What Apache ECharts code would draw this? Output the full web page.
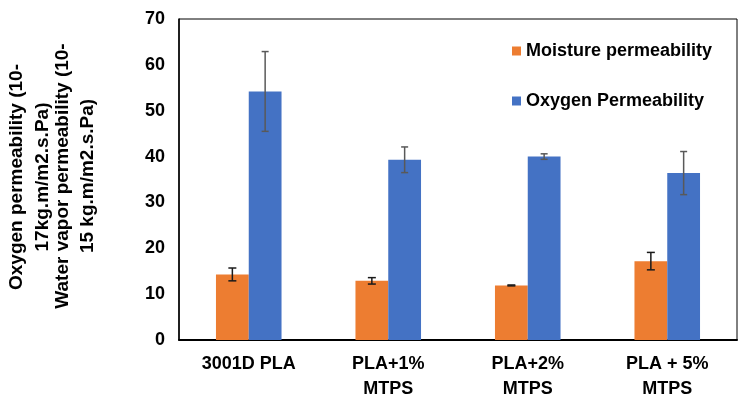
<!DOCTYPE html>
<html>
<head>
<meta charset="utf-8">
<script src="https://cdn.jsdelivr.net/npm/echarts@6/dist/echarts.min.js"></script>
<style>
html,body{margin:0;padding:0;background:#fff;}
#main{width:748px;height:408px;}
</style>
</head>
<body>
<div id="main"></div>
<script>
var categories = ['3001D PLA', 'PLA+1%\nMTPS', 'PLA+2%\nMTPS', 'PLA + 5%\nMTPS'];
var moistureValues = [14.3, 12.9, 11.9, 17.2];
var moistureErr = [1.4, 0.7, 0.1, 1.9];
var oxygenValues = [54.2, 39.3, 40.0, 36.4];
var oxygenErr = [8.7, 2.8, 0.6, 4.7];
var yTicks = [0, 10, 20, 30, 40, 50, 60, 70];

var FONT = 'Liberation Sans, Arial, sans-serif';
var GAP = 0.53;

function errData(vals, errs)
{
	var arr = [];
	for (var i = 0; i < vals.length; i++) {
		arr.push([i, vals[i] - errs[i], vals[i] + errs[i]]);
	}
	return arr;
}

function errRender(side, color, capW)
{
	return function (params, api) {
		var idx = api.value(0);
		var lo = api.coord([idx, api.value(1)]);
		var hi = api.coord([idx, api.value(2)]);
		var bandW = api.size([1, 0])[0];
		var barW = bandW * (1 - GAP) / 2;
		var x = lo[0] + side * barW / 2;
		var st = {stroke: color, lineWidth: 1.5};
		return {
			type: 'group',
			children: [
				{type: 'line', shape: {x1: x, y1: lo[1], x2: x, y2: hi[1]}, style: st},
				{type: 'line', shape: {x1: x - capW / 2, y1: lo[1], x2: x + capW / 2, y2: lo[1]}, style: st},
				{type: 'line', shape: {x1: x - capW / 2, y1: hi[1], x2: x + capW / 2, y2: hi[1]}, style: st}
			]
		};
	};
}

var option = {
	animation: false,
	backgroundColor: '#fff',
	textStyle: {fontFamily: FONT},
	grid: {
		left: 179, right: 11, top: 19, bottom: 68,
		show: true, borderColor: '#000', borderWidth: 1
	},
	legend: {
		orient: 'vertical',
		left: 507,
		top: 37,
		itemGap: 32,
		itemWidth: 9,
		itemHeight: 9,
		icon: 'rect',
		data: ['Moisture permeability', 'Oxygen Permeability'],
		textStyle: {fontFamily: FONT, fontSize: 18, fontWeight: 'bold', color: '#000'}
	},
	xAxis: {
		type: 'category',
		data: categories,
		axisLine: {lineStyle: {color: '#000', width: 2}},
		axisTick: {show: false},
		axisLabel: {
			color: '#000', fontFamily: FONT, fontSize: 18, fontWeight: 'bold',
			lineHeight: 25, margin: 12, interval: 0
		}
	},
	yAxis: {
		type: 'value',
		min: yTicks[0],
		max: yTicks[yTicks.length - 1],
		interval: 10,
		axisLine: {show: true, lineStyle: {color: '#000', width: 1.5}},
		axisTick: {show: false},
		splitLine: {show: false},
		axisLabel: {color: '#000', fontFamily: FONT, fontSize: 18, fontWeight: 'bold', margin: 14}
	},
	graphic: [
		{
			type: 'text', x: 30, y: 177, rotation: Math.PI / 2,
			style: {
				text: 'Oxygen permeability (10-\n17kg.m/m2.s.Pa)',
				font: 'bold 19px ' + FONT, fill: '#000',
				align: 'center', verticalAlign: 'middle', lineHeight: 26
			}
		},
		{
			type: 'text', x: 75, y: 176, rotation: Math.PI / 2,
			style: {
				text: 'Water vapor permeability (10-\n15 kg.m/m2.s.Pa)',
				font: 'bold 19px ' + FONT, fill: '#000',
				align: 'center', verticalAlign: 'middle', lineHeight: 25
			}
		}
	],
	series: [
		{
			name: 'Moisture permeability',
			type: 'bar',
			data: moistureValues,
			barGap: '0%',
			barCategoryGap: (GAP * 100) + '%',
			itemStyle: {color: '#ED7D31'}
		},
		{
			name: 'Oxygen Permeability',
			type: 'bar',
			data: oxygenValues,
			barGap: '0%',
			barCategoryGap: (GAP * 100) + '%',
			itemStyle: {color: '#4472C4'}
		},
		{
			name: 'moistureErr',
			type: 'custom',
			data: errData(moistureValues, moistureErr),
			encode: {x: 0, y: [1, 2]},
			renderItem: errRender(-1, '#1a1a1a', 8),
			z: 10
		},
		{
			name: 'oxygenErr',
			type: 'custom',
			data: errData(oxygenValues, oxygenErr),
			encode: {x: 0, y: [1, 2]},
			renderItem: errRender(1, '#595959', 7),
			z: 10
		}
	]
};

var myChart = echarts.init(document.getElementById('main'));
myChart.setOption(option);
</script>
</body>
</html>
